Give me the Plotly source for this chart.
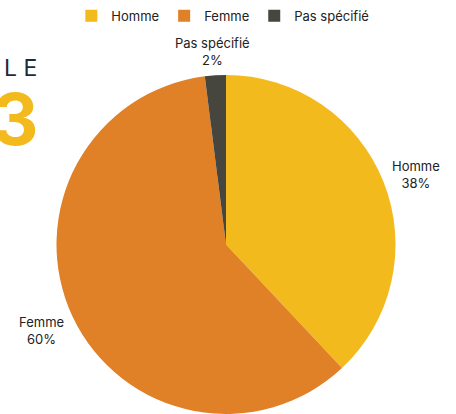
import math
import plotly.graph_objects as go

labels = ["Homme", "Femme", "Pas spécifié"]
values = [38, 60, 2]
colors = ["#F2BA1C", "#E08127", "#46463F"]

W, H = 456, 414
M = dict(l=0, r=4, t=75, b=0)

fig = go.Figure()
fig.add_trace(go.Pie(
    labels=labels,
    values=values,
    sort=False,
    direction="clockwise",
    rotation=0,
    marker=dict(colors=colors, line=dict(width=0)),
    textinfo="none",
    hoverinfo="label+percent",
))

# outside labels, placed like "end"-anchored data labels
radius = min(W - M["l"] - M["r"], H - M["t"] - M["b"]) / 2
offset, pad, font_size = 4, 4, 13
total = sum(values)
cum = 0
label_annots = []
for lab, val in zip(labels, values):
    theta = 2 * math.pi * (cum + val / 2) / total
    cum += val
    vx, vy = math.sin(theta), -math.cos(theta)  # screen coords (y down)
    text = f"{lab}<br>{round(100 * val / total)}%"
    box_h = 2 * font_size * 1.3 + 2 * pad
    box_w = max(len(lab), 4) * font_size * 0.55 + 2 * pad
    d = radius + offset
    if abs(vx) >= abs(vy):
        xa = "left" if vx > 0 else "right"
        ya = "middle"
        sx = d * vx
        sy = d * vy + (vy / abs(vx)) * box_h / 2
    else:
        xa = "center"
        ya = "bottom" if vy < 0 else "top"
        sx = d * vx + (vx / abs(vy)) * box_w / 2
        sy = d * vy
    label_annots.append(dict(
        text=text, x=0.5, y=0.5, xref="paper", yref="paper",
        xanchor=xa, yanchor=ya, xshift=sx, yshift=-sy - 2, showarrow=False,
        align="center", borderpad=pad,
        font=dict(family="Inter", size=font_size, color="#222222"),
    ))

fig.update_layout(
    width=W, height=H,
    margin=dict(**M, autoexpand=False),
    paper_bgcolor="white",
    plot_bgcolor="white",
    font=dict(family="Inter", size=13, color="#222222"),
    legend=dict(orientation="h", x=0.493, xanchor="center", y=1.219, yanchor="top",
                font=dict(family="Inter", size=13, color="#222222")),
    annotations=[
        dict(text="L E", x=0.005, y=1.02, xref="paper", yref="paper",
             xanchor="left", yanchor="middle", showarrow=False,
             font=dict(family="Inter", size=23, color="#1C2B3A")),
        dict(text="<b>3</b>", x=-0.023, y=0.873, xref="paper", yref="paper",
             xanchor="left", yanchor="middle", showarrow=False,
             font=dict(family="Inter", size=72, color="#F2BA1C")),
    ] + label_annots,
)

fig.write_html("out.html", config={"displayModeBar": False},
               post_script="document.body.style.margin='0';")
